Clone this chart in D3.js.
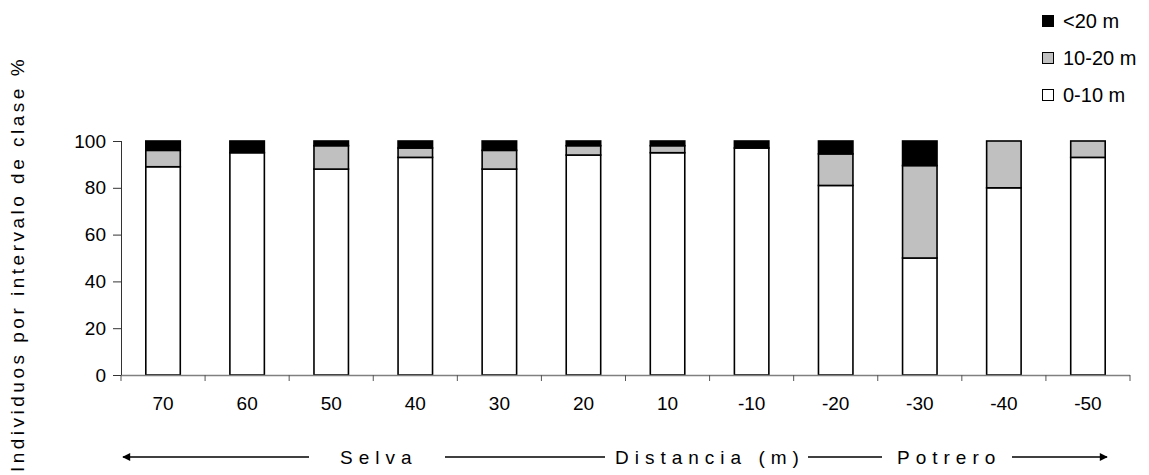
<!DOCTYPE html>
<html>
<head>
<meta charset="utf-8">
<script src="https://cdn.jsdelivr.net/npm/d3@7"></script>
<style>
  body { margin: 0; background: #fff; }
  svg { font-family: "Liberation Sans", Arial, sans-serif; }
</style>
</head>
<body>
<div id="chart"></div>
<script>
// distance from the forest edge (m)
const distancias = ["70", "60", "50", "40", "30", "20", "10", "-10", "-20", "-30", "-40", "-50"];
// percentage of individuals per height class
const clase0a10  = [89, 95, 88, 93, 88, 94, 95, 97, 81, 50, 80, 93];
const clase10a20 = [7, 0, 10, 4, 8, 4, 3, 0, 13.5, 39.5, 20, 7];
const claseMas20 = [4, 5, 2, 3, 4, 2, 2, 3, 5.5, 10.5, 0, 0];
const yTicks = [0, 20, 40, 60, 80, 100];
const seriesNames = ["0-10 m", "10-20 m", "<20 m"];
const seriesColors = ["#ffffff", "#c0c0c0", "#000000"];

const W = 1149, H = 475, FS = 19;
const margin = {top: 141, left: 121, right: 19, bottom: 100};
const innerW = W - margin.left - margin.right,
  innerH = H - margin.top - margin.bottom;

const rows = distancias.map((d, i) => ({d: d, s0: clase0a10[i], s1: clase10a20[i], s2: claseMas20[i]}));
const stack = d3.stack().keys(["s0", "s1", "s2"])(rows);

const svg = d3.select("#chart").append("svg")
  .attr("width", W).attr("height", H);
const g = svg.append("g")
  .attr("transform", `translate(${margin.left},${margin.top})`);

const x = d3.scaleBand().domain(distancias).range([0, innerW]).paddingInner(0.59).paddingOuter(0.295);
const y = d3.scaleLinear().domain([0, 100]).range([innerH, 0]);

// bars
g.selectAll("g.layer").data(stack).join("g")
  .attr("class", "layer")
  .attr("fill", (d, i) => seriesColors[i])
  .selectAll("rect").data(d => d.filter(v => v[1] - v[0] > 0)).join("rect")
  .attr("x", d => x(d.data.d))
  .attr("width", x.bandwidth())
  .attr("y", d => y(d[1]))
  .attr("height", d => y(d[0]) - y(d[1]))
  .attr("stroke", "#000")
  .attr("stroke-width", 1.6);

// x axis: gray baseline, ticks on category boundaries
g.append("line")
  .attr("x1", 0).attr("x2", innerW)
  .attr("y1", innerH + 0.5).attr("y2", innerH + 0.5)
  .attr("stroke", "#808080").attr("stroke-width", 1.5);
const step = x.step(), x0 = x(distancias[0]) - step * x.paddingOuter();
g.selectAll("line.xt").data(d3.range(distancias.length + 1)).join("line")
  .attr("class", "xt")
  .attr("x1", i => x0 + i * step)
  .attr("x2", i => x0 + i * step)
  .attr("y1", innerH).attr("y2", innerH + 6)
  .attr("stroke", "#555").attr("stroke-width", 1);

const xAxis = d3.axisBottom(x).tickSize(0).tickPadding(22);
g.append("g").attr("transform", `translate(0,${innerH})`).call(xAxis)
  .call(a => a.select(".domain").remove())
  .selectAll("text").attr("font-size", FS).attr("fill", "#000")
  .attr("font-family", "Liberation Sans, Arial, sans-serif");

// y axis
const yAxis = d3.axisLeft(y).tickValues(yTicks).tickSize(8).tickPadding(7);
g.append("g").call(yAxis)
  .call(a => a.select(".domain").attr("stroke", "#333").attr("d", `M0.5,0V${innerH}`))
  .call(a => a.selectAll(".tick line").attr("stroke", "#333"))
  .selectAll("text").attr("font-size", FS).attr("fill", "#000")
  .attr("font-family", "Liberation Sans, Arial, sans-serif");

// y title
svg.append("text")
  .attr("transform", "translate(24,264) rotate(-90)")
  .attr("text-anchor", "middle")
  .attr("font-size", FS)
  .attr("letter-spacing", "3.5px")
  .text("Individuos por intervalo de clase %");

// legend
const legend = svg.append("g").attr("transform", "translate(1042,15)");
const legItems = [2, 1, 0];
legend.selectAll("g").data(legItems).join("g")
  .attr("transform", (d, i) => `translate(0,${i * 37})`)
  .call(l => l.append("rect")
    .attr("x", 0.5).attr("y", 0.5).attr("width", 11).attr("height", 11)
    .attr("fill", d => seriesColors[d]).attr("stroke", "#000").attr("stroke-width", 1))
  .call(l => l.append("text")
    .attr("x", 21).attr("y", 13)
    .attr("font-size", 20)
    .text(d => seriesNames[d]));

// bottom annotation line with arrows
svg.append("defs").append("marker")
  .attr("id", "arrow").attr("viewBox", "0 0 10 10")
  .attr("refX", 9).attr("refY", 5)
  .attr("markerWidth", 10).attr("markerHeight", 8)
  .attr("markerUnits", "userSpaceOnUse")
  .attr("orient", "auto-start-reverse")
  .append("path").attr("d", "M0,0L10,5L0,10Z").attr("fill", "#000");

const yb = 457;
const segs = [[123, 309, "start"], [445, 605], [808, 882], [1012, 1107, "end"]];
segs.forEach(s => {
  const ln = svg.append("line")
    .attr("x1", s[0]).attr("x2", s[1]).attr("y1", yb).attr("y2", yb)
    .attr("stroke", "#000").attr("stroke-width", 1.5);
  if (s[2] === "start") ln.attr("marker-start", "url(#arrow)");
  if (s[2] === "end") ln.attr("marker-end", "url(#arrow)");
});
const labels = [["Selva", 340], ["Distancia (m)", 615], ["Potrero", 897]];
labels.forEach(t => {
  svg.append("text")
    .attr("x", t[1]).attr("y", yb + 7)
    .attr("font-size", FS)
    .attr("letter-spacing", "6px")
    .text(t[0]);
});
</script>
</body>
</html>
